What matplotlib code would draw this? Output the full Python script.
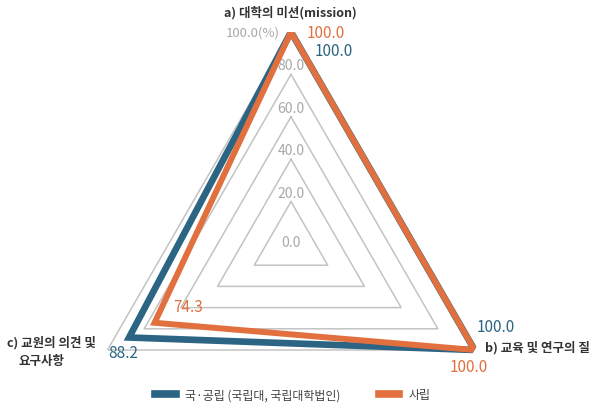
import numpy as np
import matplotlib.pyplot as plt
from matplotlib.lines import Line2D

plt.rcParams['font.family'] = ['Noto Sans CJK KR', 'DejaVu Sans']

categories = ['a) 대학의 미션(mission)', 'b) 교육 및 연구의 질', 'c) 교원의 의견 및\n요구사항']
series_names = ['국·공립 (국립대, 국립대학법인)', '사립']
public_vals = [100.0, 100.0, 88.2]
private_vals = [100.0, 100.0, 74.3]
ring_vals = [20, 40, 60, 80, 100]
tick_vals = [0, 20, 40, 60, 80]

blue = '#2c6483'
orange = '#e2703f'
grid_c = '#c3c3c3'
tick_c = '#a8a8a8'

W, H = 599, 410
fig = plt.figure(figsize=(W / 100, H / 100), dpi=100)
# polar axes: center at (291, 245) px, radius 212 px
cx, cy, R = 291, 245, 212
ax = fig.add_axes([(cx - R) / W, (H - cy - R) / H, 2 * R / W, 2 * R / H],
                  projection='polar')
ax.set_theta_offset(np.pi / 2)
ax.set_theta_direction(-1)
ax.set_ylim(0, 100)
ax.axis('off')

theta = np.deg2rad([0, 120, 240])
closed = np.append(theta, theta[0])

for v in ring_vals:
    ax.plot(closed, [v] * 4, color=grid_c, lw=1.1, zorder=1)

for v in tick_vals:
    if v == 0:
        ax.annotate(f'{v:.1f}', (0, v), xytext=(0, 2), textcoords='offset pixels',
                    ha='center', va='center', fontsize=10, color=tick_c, zorder=2)
    else:
        ax.annotate(f'{v:.1f}', (0, v), xytext=(0, 2), textcoords='offset pixels',
                    ha='center', va='bottom', fontsize=10, color=tick_c, zorder=2)
ax.annotate('100.0(%)', (0, 100), xytext=(-11, 0), textcoords='offset pixels',
            ha='right', va='center', fontsize=9.5, color=tick_c, zorder=2)

ax.plot(closed, public_vals + public_vals[:1], color=blue, lw=4.8,
        solid_joinstyle='miter', zorder=3)
ax.plot(closed, private_vals + private_vals[:1], color=orange, lw=4.3,
        solid_joinstyle='miter', zorder=4)

# value labels
pub_off = [(43, -19), (21, 23), (-6, -15)]
priv_off = [(35, 0), (-6, -17), (34, 16)]
for th, v, off in zip(theta, public_vals, pub_off):
    ax.annotate(f'{v:.1f}', (th, v), xytext=off, textcoords='offset pixels',
                ha='center', va='center', fontsize=11, color=blue, zorder=5)
for th, v, off in zip(theta, private_vals, priv_off):
    ax.annotate(f'{v:.1f}', (th, v), xytext=off, textcoords='offset pixels',
                ha='center', va='center', fontsize=11, color=orange, zorder=5)

# category labels
ax.annotate(categories[0], (theta[0], 100), xytext=(-1, 20), textcoords='offset pixels',
            ha='center', va='center', fontsize=9, fontweight='bold', color='#333333')
ax.annotate(categories[1], (theta[1], 100), xytext=(10, 3), textcoords='offset pixels',
            ha='left', va='center', fontsize=9, fontweight='bold', color='#333333')
c1, c2 = categories[2].split('\n')
fig.text(7 / W, 1 - 343 / H, c1, ha='left', va='center', fontsize=9,
         fontweight='bold', color='#333333')
fig.text(18 / W, 1 - 362 / H, c2, ha='left', va='center', fontsize=9,
         fontweight='bold', color='#333333')

handles = [Line2D([], [], color=blue, lw=5.5), Line2D([], [], color=orange, lw=5.5)]
fig.legend(handles, series_names, loc='center', bbox_to_anchor=(293 / W, 1 - 396 / H),
           ncol=2, frameon=False, fontsize=8.6, labelcolor='#404040',
           handlelength=1.7, handletextpad=0.8, columnspacing=3.2)

fig.savefig('out.png', dpi=100)
